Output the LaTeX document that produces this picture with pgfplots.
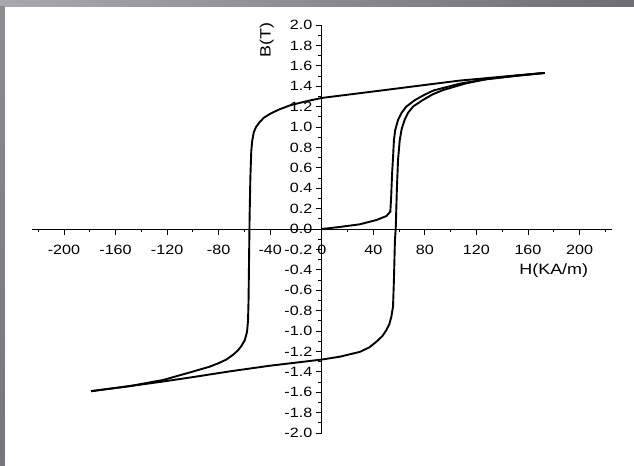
\documentclass[border=0pt]{standalone}
\usepackage{fontspec}
\setmainfont{Liberation Sans}[FakeStretch=1.2]
\usepackage{pgfplots}
\pgfplotsset{compat=1.18}
\definecolor{bartl}{RGB}{168,168,174}
\definecolor{bartr}{RGB}{110,110,118}
\definecolor{stript}{RGB}{140,140,146}
\definecolor{stripb}{RGB}{118,118,124}
\begin{document}
\begin{tikzpicture}
\path[use as bounding box] (-31.75bp,-33bp) rectangle (602.25bp,433bp);
\fill[white] (-31.75bp,-33bp) rectangle (602.25bp,433bp);
\shade[left color=bartl, right color=bartr] (-31.75bp,426bp) rectangle (602.25bp,433bp);
\shade[top color=stript, bottom color=stripb] (-31.75bp,-33bp) rectangle (-26.75bp,426bp);
\begin{axis}[
  at={(0,0)}, anchor=south west,
  scale only axis, width=580bp, height=408bp,
  xmin=-225, xmax=225, ymin=-2, ymax=2,
  axis lines=middle,
  axis line style={line width=0.8bp, -},
  clip=false,
  xtick={-200,-160,-120,-80,-40,40,80,120,160,200},
  minor xtick={-220,-180,-140,-100,-60,-20,20,60,100,140,180,220},
  ytick={-2.0,-1.8,-1.6,-1.4,-1.2,-1.0,-0.8,-0.6,-0.4,-0.2,0.2,0.4,0.6,0.8,1.0,1.2,1.4,1.6,1.8,2.0},
  minor ytick={-1.9,-1.7,-1.5,-1.3,-1.1,-0.9,-0.7,-0.5,-0.3,-0.1,0.1,0.3,0.5,0.7,0.9,1.1,1.3,1.5,1.7,1.9},
  extra x ticks={0}, extra x tick labels={0},
  extra y ticks={0}, extra y tick labels={0.0},
  extra tick style={tick align=outside, major tick length=6bp},
  tick align=outside,
  major tick length=6bp, minor tick length=3.5bp,
  every tick/.style={line width=0.8bp, black},
  tick label style={font=\fontsize{13.5}{15}\selectfont},
  x tick label style={yshift=-7bp},
  /pgf/number format/assume math mode=true,
  yticklabel style={/pgf/number format/.cd, fixed, fixed zerofill, precision=1},
  xlabel={H(KA/m)}, ylabel={B(T)},
  every axis x label/.style={at={(axis description cs:0.9,0.3975)}, anchor=center, font=\fontsize{15}{17}\selectfont},
  every axis y label/.style={at={(axis description cs:0.4053,0.9625)}, anchor=center, rotate=90, font=\fontsize{15}{17}\selectfont},
]
\addplot[black, line width=1.9bp, line join=round] coordinates {
(173,1.530) (150,1.505) (127,1.478) (107,1.455) (80,1.412) (40,1.348) (0,1.285)
(-12,1.252) (-24,1.215) (-33,1.172) (-40,1.130) (-45,1.090) (-48,1.050) (-51,1.000)
(-52.7,0.950) (-54,0.860) (-54.7,0.760) (-55.4,0.500) (-56,0.100) (-56.4,-0.300)
(-56.8,-0.700) (-57.2,-0.900) (-58,-1.010) (-59.7,-1.090) (-62.5,-1.150) (-65,-1.190)
(-69,-1.235) (-74,-1.280) (-80,-1.315) (-87,-1.350) (-102,-1.405) (-123,-1.480)
(-149,-1.540) (-179,-1.590)
};
\addplot[black, line width=1.9bp, line join=round] coordinates {
(-179,-1.590) (-150,-1.542) (-123,-1.495) (-100,-1.452) (-71,-1.395) (-40,-1.340)
(0,-1.280) (14,-1.252) (29.5,-1.205) (37,-1.160) (42.4,-1.105) (47,-1.050) (50.2,-0.990)
(52.5,-0.930) (54,-0.860) (55.3,-0.760) (56,-0.500) (56.8,-0.100) (57.4,0.000)
(58.3,0.400) (59.2,0.680) (60.5,0.870) (62,0.980) (64.3,1.070) (67,1.140) (70.8,1.200)
(78.5,1.265) (86,1.320) (94.3,1.363) (112,1.428) (128,1.470) (150,1.502) (173,1.530)
};
\addplot[black, line width=1.9bp, line join=round] coordinates {
(0,0) (14,0.020) (29.5,0.046) (42.4,0.088) (50.2,0.127) (53.2,0.170) (53.8,0.300)
(54.6,0.550) (55.3,0.700) (56,0.870) (57,0.970) (59.2,1.070) (62,1.140) (65.6,1.200)
(72.4,1.265) (80,1.318) (86.7,1.358) (107,1.425) (128,1.468) (150,1.500) (173,1.530)
};
\end{axis}
\end{tikzpicture}
\end{document}
